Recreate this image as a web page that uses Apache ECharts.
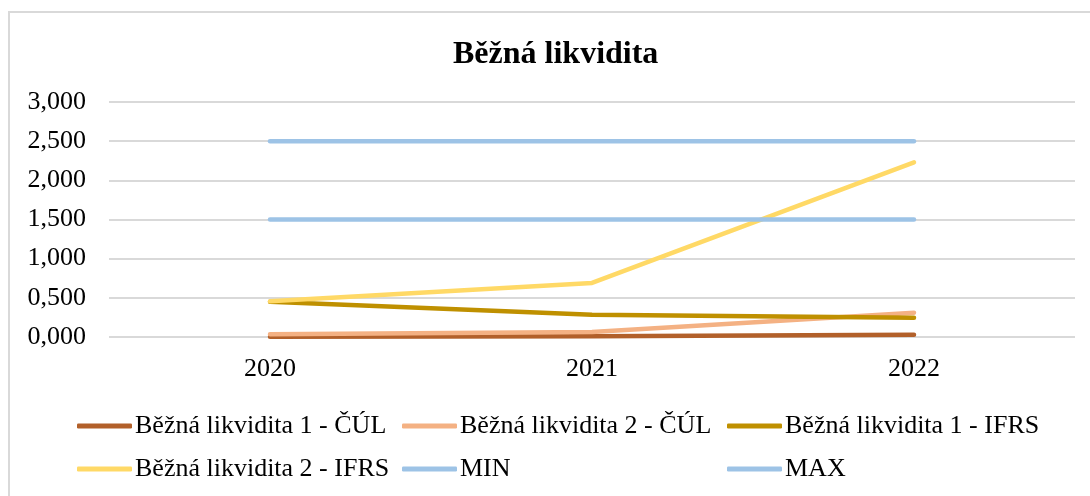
<!DOCTYPE html>
<html>
<head>
<meta charset="utf-8">
<script src="https://cdn.jsdelivr.net/npm/echarts@6/dist/echarts.min.js"></script>
<style>
html,body{margin:0;padding:0;background:#fff;}
#frame{position:absolute;left:8px;top:11px;width:1200px;height:600px;border-left:2px solid #d9d9d9;border-top:2px solid #d9d9d9;}
#chart{position:absolute;left:0;top:0;width:1090px;height:496px;}
</style>
</head>
<body>
<div id="frame"></div>
<div id="chart"></div>
<script>
const titleText = 'Běžná likvidita';
const categories = ['2020', '2021', '2022'];
const seriesNames = ['Běžná likvidita 1 - ČÚL', 'Běžná likvidita 2 - ČÚL', 'Běžná likvidita 1 - IFRS', 'Běžná likvidita 2 - IFRS', 'MIN', 'MAX'];
const cul1 = [0.003, 0.008, 0.03];
const cul2 = [0.035, 0.063, 0.31];
const ifrs1 = [0.45, 0.285, 0.245];
const ifrs2 = [0.455, 0.69, 2.23];
const minValues = [1.5, 1.5, 1.5];
const maxValues = [2.5, 2.5, 2.5];
const colors = ['#B2602A', '#F4B183', '#BF9000', '#FFD966', '#9DC3E6', '#9DC3E6'];
const yTicks = [0, 0.5, 1, 1.5, 2, 2.5, 3];

const allData = [cul1, cul2, ifrs1, ifrs2, minValues, maxValues];
const font = 'Liberation Serif';

const legendPos = [
  {left: 72, top: 408}, {left: 397, top: 408}, {left: 722, top: 408},
  {left: 72, top: 451}, {left: 397, top: 451}, {left: 722, top: 451}
];

const chart = echarts.init(document.getElementById('chart'));
chart.setOption({
  animation: false,
  backgroundColor: 'transparent',
  title: {
    text: titleText, left: 448, top: 34,
    textStyle: {fontFamily: font, fontSize: 32, fontWeight: 'bold', color: '#000'}
  },
  legend: seriesNames.map((n, i) => ({
    data: [n], left: legendPos[i].left, top: legendPos[i].top,
    icon: 'roundRect', itemWidth: 55, itemHeight: 5, itemGap: 0,
    textStyle: {fontFamily: font, fontSize: 26, color: '#000', padding: [0, 0, 0, -2]}
  })),
  grid: {left: 109, right: 15, top: 102, bottom: 159, containLabel: false},
  xAxis: {
    type: 'category', data: categories, boundaryGap: true,
    axisLine: {show: false}, axisTick: {show: false},
    axisLabel: {fontFamily: font, fontSize: 26, color: '#000', margin: 19}
  },
  yAxis: {
    type: 'value', min: yTicks[0], max: yTicks[yTicks.length - 1], interval: 0.5,
    axisLine: {show: false}, axisTick: {show: false},
    splitLine: {lineStyle: {color: '#d9d9d9', width: 2}},
    axisLabel: {fontFamily: font, fontSize: 26, color: '#000', margin: 23,
      formatter: v => v.toFixed(3).replace('.', ',')}
  },
  series: seriesNames.map((n, i) => ({
    name: n, type: 'line', data: allData[i], symbol: 'none',
    color: colors[i],
    lineStyle: {width: 4.5, color: colors[i], cap: 'round', join: 'round'}
  }))
});
</script>
</body>
</html>
